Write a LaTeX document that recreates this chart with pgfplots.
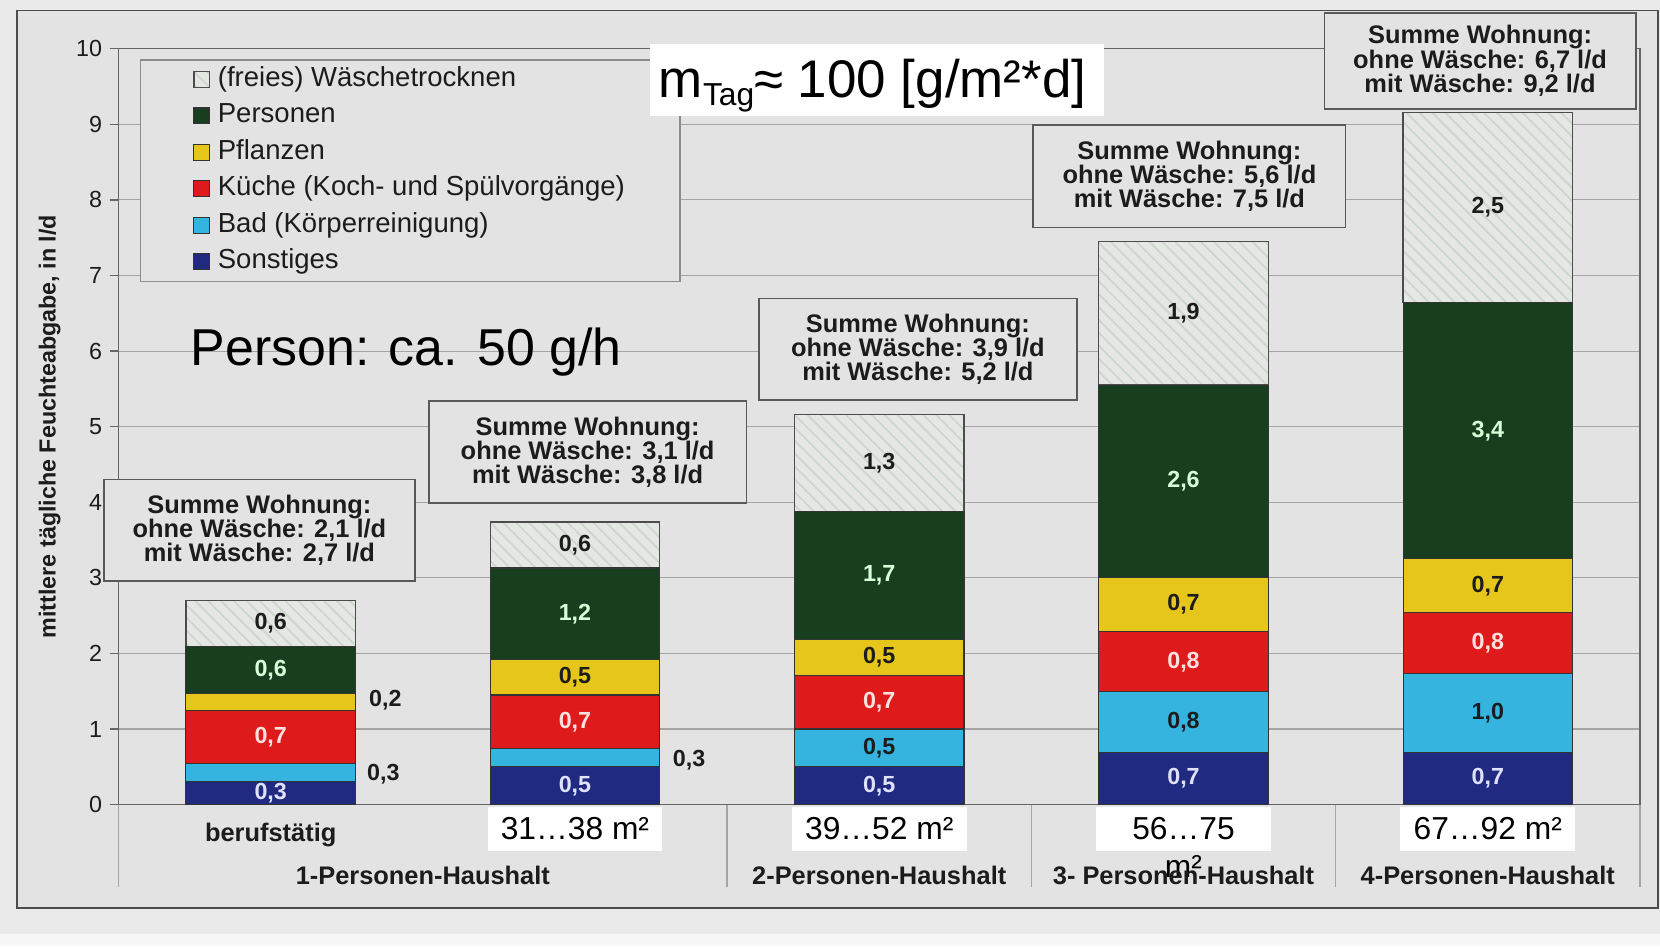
\documentclass[border=0pt]{standalone}
\usepackage{fontspec}
\setmainfont{Liberation Sans}
\usepackage{pgfplots}
\pgfplotsset{compat=1.18}
\usepackage{pgfplotstable}
\usetikzlibrary{patterns.meta}

\definecolor{bg}{HTML}{E3E3E3}
\definecolor{outbg}{HTML}{EAEAEA}
\definecolor{cSon}{HTML}{1F2A80}
\definecolor{cBad}{HTML}{35B4E0}
\definecolor{cKue}{HTML}{DF1A1A}
\definecolor{cPfl}{HTML}{E6C61A}
\definecolor{cPer}{HTML}{173F1F}
\definecolor{cHatch}{HTML}{CCD6CB}
\definecolor{cWae}{HTML}{E4E7E4}
\definecolor{gridc}{HTML}{A5A5A5}
\definecolor{txt}{HTML}{1C1C1C}

\newcommand{\fs}[2]{\fontsize{#1}{#2}\selectfont}

\pgfplotstableread{
x y lab
0 0.30 {0,3}
1 0.50 {0,5}
2 0.50 {0,5}
3 0.69 {0,7}
4 0.69 {0,7}
}\tSon
\pgfplotstableread{
x y lab
0 0.24 {}
1 0.24 {}
2 0.50 {0,5}
3 0.80 {0,8}
4 1.05 {1,0}
}\tBad
\pgfplotstableread{
x y lab
0 0.71 {0,7}
1 0.71 {0,7}
2 0.71 {0,7}
3 0.80 {0,8}
4 0.80 {0,8}
}\tKue
\pgfplotstableread{
x y lab
0 0.22 {}
1 0.47 {0,5}
2 0.48 {0,5}
3 0.71 {0,7}
4 0.71 {0,7}
}\tPfl
\pgfplotstableread{
x y lab
0 0.62 {0,6}
1 1.21 {1,2}
2 1.69 {1,7}
3 2.55 {2,6}
4 3.39 {3,4}
}\tPer
\pgfplotstableread{
x y lab
0 0.61 {0,6}
1 0.61 {0,6}
2 1.28 {1,3}
3 1.90 {1,9}
4 2.52 {2,5}
}\tWae

\tikzset{sumbox/.style={draw=black!65, line width=0.8pt, fill=bg, align=center,
  inner sep=0pt, font=\bfseries\fs{12}{11.4}, text=txt}}

\begin{document}
\begin{tikzpicture}
\path[use as bounding box] (-56pt,-67pt) rectangle (728pt,380pt);
\fill[outbg] (-56pt,-67pt) rectangle (728pt,380pt);
\fill[white!60!outbg] (-56pt,-67pt) rectangle (728pt,-61pt);
\fill[bg] (-48pt,-49pt) rectangle (727pt,375pt);
\draw[black!70, line width=0.8pt] (-48pt,-49pt) rectangle (727pt,375pt);
\begin{axis}[
  at={(0pt,0pt)}, anchor=south west,
  scale only axis, width=718.5pt, height=357pt,
  xmin=-0.5, xmax=4.5, ymin=0, ymax=10,
  ybar stacked, bar width=0.557,
  clip=false,
  axis line style={draw=black!60, line width=0.6pt},
  ymajorgrids, grid style={draw=gridc, line width=0.5pt},
  ytick={0,1,...,10},
  xtick={-0.5,1.5,2.5,3.5,4.5}, xticklabels={},
  tick align=outside, tick pos=left,
  ytick style={draw=black!60, line width=0.6pt, /pgfplots/major tick length=4.25pt},
  xtick style={draw=gridc, line width=0.6pt, /pgfplots/major tick length=39pt},
  yticklabel style={font=\fs{11}{13}, text=txt},
  /pgf/number format/assume math mode=true,
  ylabel={mittlere tägliche Feuchteabgabe, in l/d},
  every axis y label/.style={at={([xshift=-32.5pt]axis description cs:0,0.5)}, rotate=90, anchor=center, font=\bfseries\fs{11}{13}, text=txt},
  point meta=explicit symbolic,
  nodes near coords,
  every node near coord/.append style={anchor=center, font=\bfseries\fs{11}{13}, inner sep=0pt},
  reverse legend,
  legend cell align=left,
  legend image code/.code={\draw[#1] (0pt,-3.75pt) rectangle (7.5pt,3.75pt);},
  legend style={at={(0.01392,0.98599)}, anchor=north west,
    draw=black!45, fill=bg, line width=0.6pt,
    inner xsep=25pt, inner ysep=2.5pt,
    font=\fs{13}{15}, row sep=3.7pt,
    nodes={inner sep=1pt, text height=9pt, text depth=2.5pt, text=txt},
    /tikz/every odd column/.append style={column sep=2.5pt}},
]
\addplot[fill=cSon, draw=black!80, line width=0.5pt, nodes near coords style={text=white!88!blue}]
  table[x=x,y=y,meta=lab]{\tSon};
\addplot[fill=cBad, draw=black!80, line width=0.5pt, nodes near coords style={text=txt}]
  table[x=x,y=y,meta=lab]{\tBad};
\addplot[fill=cKue, draw=black!80, line width=0.5pt, nodes near coords style={text=white!88!red}]
  table[x=x,y=y,meta=lab]{\tKue};
\addplot[fill=cPfl, draw=black!80, line width=0.5pt, nodes near coords style={text=txt}]
  table[x=x,y=y,meta=lab]{\tPfl};
\addplot[fill=cPer, draw=black!80, line width=0.5pt, nodes near coords style={text=white!85!green}]
  table[x=x,y=y,meta=lab]{\tPer};
\addplot[fill=cWae, draw=black!70, line width=0.6pt, dash pattern=on 2.5pt off 2pt,
  postaction={solid,pattern={Lines[angle=-45,distance=4.3pt,line width=0.8pt]},pattern color=cHatch},
  nodes near coords style={text=txt}]
  table[x=x,y=y,meta=lab]{\tWae};
\legend{Sonstiges, Bad (Körperreinigung), Küche (Koch- und Spülvorgänge), Pflanzen, Personen, (freies) Wäschetrocknen}

% outside value labels
\node[font=\bfseries\fs{11}{13}, text=txt] at (axis cs:0.377,1.387) {0,2};
\node[font=\bfseries\fs{11}{13}, text=txt] at (axis cs:0.37,0.406) {0,3};
\node[font=\bfseries\fs{11}{13}, text=txt] at (axis cs:1.375,0.588) {0,3};

% category labels
\node[font=\bfseries\fs{12}{14}, text=txt] at ([yshift=-14.5pt]axis cs:0,0) {berufstätig};
\node[font=\bfseries\fs{12}{14}, text=txt] at ([yshift=-33.5pt]axis cs:0.5,0) {1-Personen-Haushalt};
\node[font=\bfseries\fs{12}{14}, text=txt] at ([yshift=-33.5pt]axis cs:2,0) {2-Personen-Haushalt};
\node[font=\bfseries\fs{12}{14}, text=txt] at ([yshift=-33.5pt]axis cs:3,0) {3- Personen-Haushalt};
\node[font=\bfseries\fs{12}{14}, text=txt] at ([yshift=-33.5pt]axis cs:4,0) {4-Personen-Haushalt};

% area boxes
\node[fill=white, minimum width=82.5pt, minimum height=21pt, inner sep=0pt, font=\fs{15}{18}] at ([yshift=-11.5pt]axis cs:1,0) {31…38 m²};
\node[fill=white, minimum width=82.5pt, minimum height=21pt, inner sep=0pt, font=\fs{15}{18}] at ([yshift=-11.5pt]axis cs:2,0) {39…52 m²};
\node[fill=white, minimum width=82.5pt, minimum height=21pt, inner sep=0pt, font=\fs{15}{18}] at ([yshift=-11.5pt]axis cs:3,0) {56…75};
\node[inner sep=0pt, font=\fs{15}{18}] at ([yshift=-29pt]axis cs:3,0) {m²};
\node[fill=white, minimum width=82.5pt, minimum height=21pt, inner sep=0pt, font=\fs{15}{18}] at ([yshift=-11.5pt]axis cs:4,0) {67…92 m²};
\end{axis}

% summary boxes
\node[sumbox, minimum width=147pt, minimum height=48pt] at (66.5pt,129.5pt) {Summe Wohnung:\\ohne Wäsche: 2,1 l/d\\mit Wäsche: 2,7 l/d};
\node[sumbox, minimum width=150pt, minimum height=48pt] at (221.5pt,166.5pt) {Summe Wohnung:\\ohne Wäsche: 3,1 l/d\\mit Wäsche: 3,8 l/d};
\node[sumbox, minimum width=150pt, minimum height=48pt] at (377.5pt,215pt) {Summe Wohnung:\\ohne Wäsche: 3,9 l/d\\mit Wäsche: 5,2 l/d};
\node[sumbox, minimum width=147.5pt, minimum height=48.5pt] at (505.75pt,296.75pt) {Summe Wohnung:\\ohne Wäsche: 5,6 l/d\\mit Wäsche: 7,5 l/d};
\node[sumbox, minimum width=147pt, minimum height=45.5pt] at (643pt,351.25pt) {Summe Wohnung:\\ohne Wäsche: 6,7 l/d\\mit Wäsche: 9,2 l/d};

% big texts
\fill[white] (251pt,325pt) rectangle (465.5pt,359pt);
\node[anchor=base west, inner sep=0pt, font=\fs{25}{28}, text=black] at (255pt,334pt) {m\raisebox{-4pt}{\fs{15}{17}Tag}≈ 100 [g/m²*d]};
\node[anchor=base west, inner sep=0pt, font=\fs{24.5}{28}, text=black] at (34pt,207.5pt) {Person: ca. 50 g/h};
\end{tikzpicture}
\end{document}
